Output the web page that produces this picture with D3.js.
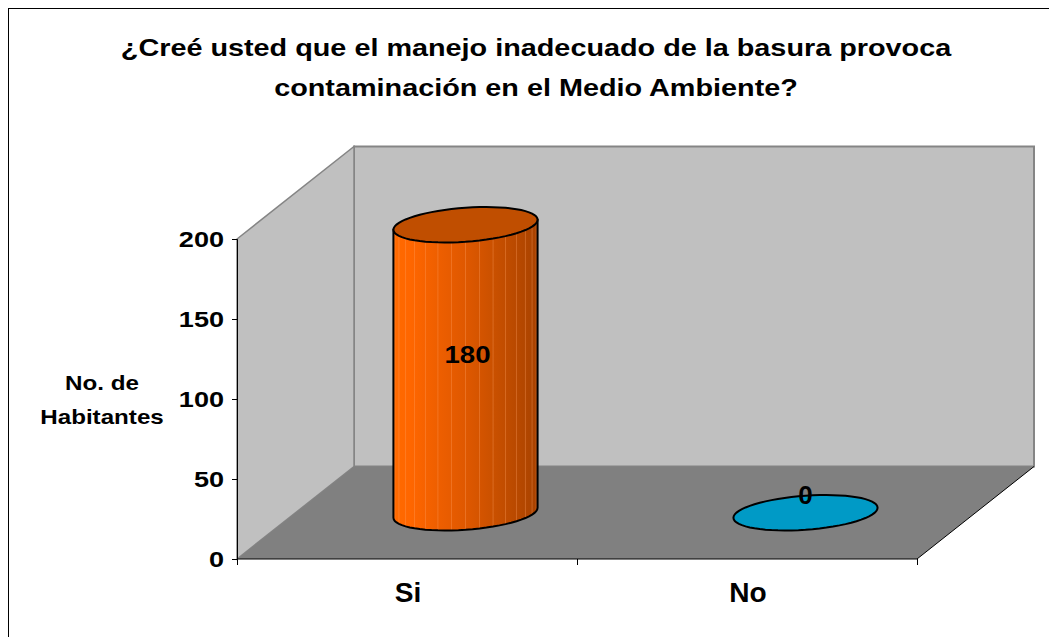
<!DOCTYPE html>
<html>
<head>
<meta charset="utf-8">
<script src="https://cdn.jsdelivr.net/npm/d3@7"></script>
<style>
  body { margin: 0; background: #fff; }
  text { font-family: "Liberation Sans", Arial, sans-serif; font-weight: bold; fill: #000; }
</style>
</head>
<body>
<svg id="canvas" width="1049" height="637"></svg>
<script>
/********** Data **********/
var categories = ["Si", "No"];
var values = [180, 0];
var colors = ["#ff6600", "#009ac6"];
var yTicks = [0, 50, 100, 150, 200];
var titleLines = ["¿Creé usted que el manejo inadecuado de la basura provoca",
                  "contaminación en el Medio Ambiente?"];
var yTitleLines = ["No. de", "Habitantes"];

/********** Setup **********/
var svg = d3.select("#canvas");

// front plane of the 3d box and depth offset
var x0 = 237, x1 = 917, yTop = 239, yBot = 559;
var depth = { dx: 117, dy: -92.5 };

var x = d3.scaleBand().domain(categories).range([x0, x1]);
var y = d3.scaleLinear().domain([0, 200]).range([yBot, yTop]);

// text helper: the original fonts are a bit wider than Arial
function label(g, px, py, txt, size, stretch, anchor) {
  return g.append("text")
    .attr("transform", "translate(" + px + "," + py + ") scale(" + stretch + ",1)")
    .attr("text-anchor", anchor || "middle")
    .style("font-size", size + "px")
    .text(txt);
}

// outer border (only left/top visible in frame)
svg.append("rect")
  .attr("x", 8.5).attr("y", 8.5)
  .attr("width", 1060).attr("height", 660)
  .attr("fill", "none").attr("stroke", "#000").attr("stroke-width", 1);

/********** Title **********/
var title = svg.append("g");
titleLines.forEach(function(t, i) {
  label(title, 536, 56 + i * 40, t, 24, 1.2);
});

/********** Walls **********/
var walls = svg.append("g");
// back wall
walls.append("rect")
  .attr("x", x0 + depth.dx).attr("y", yTop + depth.dy)
  .attr("width", x1 - x0).attr("height", yBot - yTop)
  .attr("fill", "#c0c0c0").attr("stroke", "#858585").attr("stroke-width", 2);
// side wall
walls.append("polygon")
  .attr("points", [[x0, yTop], [x0 + depth.dx, yTop + depth.dy],
                   [x0 + depth.dx, yBot + depth.dy], [x0, yBot]].join(" "))
  .attr("fill", "#c0c0c0").attr("stroke", "#858585").attr("stroke-width", 1.5);
// floor
walls.append("polygon")
  .attr("points", [[x0, yBot], [x1, yBot], [x1 + depth.dx, yBot + depth.dy],
                   [x0 + depth.dx, yBot + depth.dy]].join(" "))
  .attr("fill", "#808080");
walls.append("line")
  .attr("x1", x1).attr("y1", yBot)
  .attr("x2", x1 + depth.dx).attr("y2", yBot + depth.dy)
  .attr("stroke", "#000").attr("stroke-width", 1);

/********** Axes **********/
var yAxis = svg.append("g")
  .attr("transform", "translate(" + x0 + ",0)")
  .call(d3.axisLeft(y).tickValues(yTicks).tickSize(5).tickFormat(""));
yAxis.select(".domain").attr("stroke", "#000");
var yLabels = svg.append("g");
yTicks.forEach(function(v) {
  label(yLabels, 224, y(v) + 7.7, v, 21.5, 1.26, "end");
});

var xAxis = svg.append("g")
  .attr("transform", "translate(0," + yBot + ")");
xAxis.append("line")
  .attr("x1", x0).attr("x2", x1).attr("stroke", "#000");
xAxis.selectAll("line.tick")
  .data(categories.map(function(c) { return x(c); }).concat([x1]))
  .enter().append("line")
  .attr("class", "tick")
  .attr("x1", function(d) { return d + 0.5; }).attr("x2", function(d) { return d + 0.5; })
  .attr("y1", 0).attr("y2", 6).attr("stroke", "#000");
var xLabels = svg.append("g");
categories.forEach(function(c) {
  label(xLabels, x(c) + x.bandwidth() / 2 + 1, 602, c, 27, 1.04);
});

var yTitle = svg.append("g");
yTitleLines.forEach(function(t, i) {
  label(yTitle, 102, 390 + i * 34, t, 19.5, 1.24);
});

/********** Cylinders **********/
var defs = svg.append("defs");
var grad = defs.append("linearGradient").attr("id", "orangeSide")
  .attr("x1", "0%").attr("x2", "100%").attr("y1", "0%").attr("y2", "0%");
[[0, "#ff6a00"], [0.12, "#ff6600"], [0.3, "#ef5f00"], [0.5, "#df5800"],
 [0.7, "#c95000"], [0.88, "#b64800"], [1, "#a84200"]].forEach(function(s) {
  grad.append("stop").attr("offset", s[0]).attr("stop-color", s[1]);
});

var a = x.bandwidth() * 0.212;   // half width
var tilt = 5, b = 17;            // ellipse shape

function ellipsePt(cx, cy, t) {
  return [cx + Math.cos(t) * a, cy - Math.cos(t) * tilt + Math.sin(t) * b];
}
function ellipsePath(cx, cy) {
  var pts = d3.range(0, 64).map(function(i) { return ellipsePt(cx, cy, i / 64 * 2 * Math.PI); });
  return "M" + pts.join("L") + "Z";
}

var bars = svg.append("g");
var valueLabels = svg.append("g");
categories.forEach(function(c, i) {
  var cx = x(c) + x.bandwidth() / 2 + depth.dx / 2;
  var cyBase = y(0) + depth.dy / 2;
  var cyTop = y(values[i]) + depth.dy / 2;
  var g = bars.append("g");
  if (values[i] > 0) {
    // body: left side, front half of base, right side
    var pts = [];
    pts.push(ellipsePt(cx, cyTop, Math.PI));
    d3.range(0, 33).forEach(function(k) {
      pts.push(ellipsePt(cx, cyBase, Math.PI - k / 32 * Math.PI));
    });
    pts.push(ellipsePt(cx, cyTop, 0));
    g.append("path")
      .attr("d", "M" + pts.join("L") + "Z")
      .attr("fill", "url(#orangeSide)");
    // faint vertical facet lines
    g.selectAll("line.facet")
      .data(d3.range(1, 16)).enter().append("line")
      .attr("class", "facet")
      .attr("x1", function(k) { return cx - a * Math.cos(k / 16 * Math.PI); })
      .attr("x2", function(k) { return cx - a * Math.cos(k / 16 * Math.PI); })
      .attr("y1", function(k) { return ellipsePt(cx, cyTop, Math.PI + k / 16 * Math.PI)[1]; })
      .attr("y2", function(k) { return ellipsePt(cx, cyBase, Math.PI - k / 16 * Math.PI)[1]; })
      .attr("stroke", "#ffa060").attr("stroke-opacity", 0.35).attr("stroke-width", 1);
    g.append("path")
      .attr("d", "M" + pts.join("L") + "Z")
      .attr("fill", "none").attr("stroke", "#000").attr("stroke-width", 2);
    g.append("path")
      .attr("d", ellipsePath(cx, cyTop))
      .attr("fill", "#c04e00").attr("stroke", "#000").attr("stroke-width", 2);
    label(valueLabels, cx + 2, (cyTop + cyBase) / 2 - 6, values[i], 24, 1.15);
  } else {
    g.append("path")
      .attr("d", ellipsePath(cx, cyBase))
      .attr("fill", colors[i]).attr("stroke", "#000").attr("stroke-width", 2);
    label(valueLabels, cx, cyBase - 9, values[i], 26, 1.0);
  }
});
</script>
</body>
</html>
